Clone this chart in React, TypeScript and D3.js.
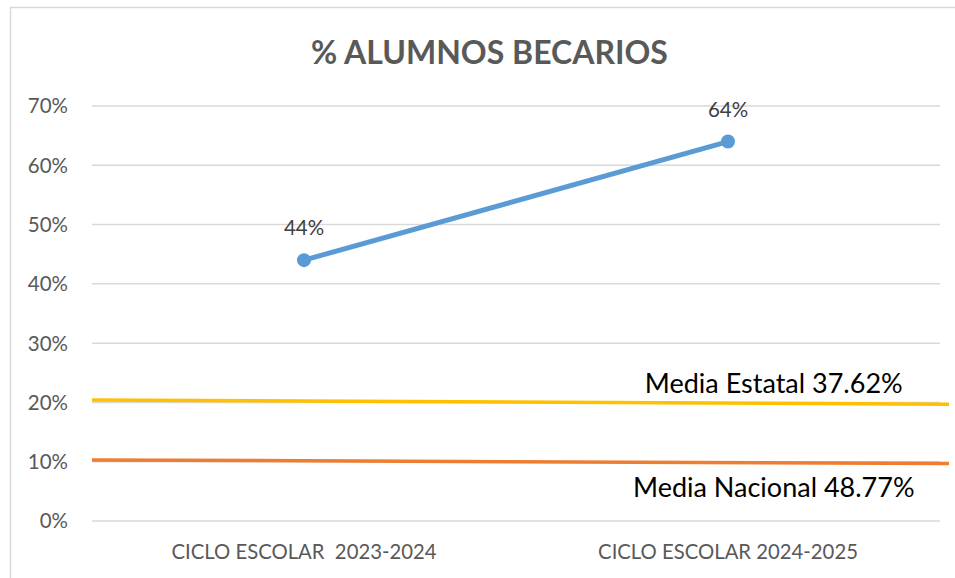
import React from 'react';
import * as d3 from 'd3';

// categories and series
const categories = ['CICLO ESCOLAR  2023-2024', 'CICLO ESCOLAR 2024-2025'];
const becarios = [0.44, 0.64];
const yTicks = [0, 0.1, 0.2, 0.3, 0.4, 0.5, 0.6, 0.7];

// reference lines: value at start and end of the drawn segment (fraction of plot width)
const refExtent = [0, 1.0106];
const mediaEstatal = [0.204, 0.197];
const mediaNacional = [0.103, 0.097];
const refLabels = ['Media Estatal 37.62%', 'Media Nacional 48.77%'];

const W = 955;
const H = 578;
const margin = { top: 106, right: 15, bottom: 57, left: 92 };

const App: React.FC = () => {
  const innerW = W - margin.left - margin.right;
  const innerH = H - margin.top - margin.bottom;

  const x = d3.scaleBand<string>().domain(categories).range([0, innerW]);
  const y = d3.scaleLinear().domain([0, 0.7]).range([innerH, 0]);
  const xFrac = d3.scaleLinear().domain([0, 1]).range([0, innerW]);

  const cx = (c: string) => (x(c) || 0) + x.bandwidth() / 2;
  const pts = categories.map((c, i) => ({ c, v: becarios[i] }));

  const line = d3.line<{ c: string; v: number }>()
    .x(d => cx(d.c))
    .y(d => y(d.v));

  const refLine = d3.line<number>()
    .x((_, i) => xFrac(refExtent[i]))
    .y(d => y(d));

  const pct = d3.format('.0%');
  const font = 'Lato, "Open Sans", sans-serif';

  return (
    <svg
      width={W}
      height={H}
      style={{ position: 'absolute', left: 0, top: 0, display: 'block', background: '#fff' }}
      fontFamily={font}
    >
      {/* chart border */}
      <rect x={10.5} y={7.5} width={W} height={H} fill="none" stroke="#D9D9D9" strokeWidth={1.5} />

      <text x={489.5} y={64} textAnchor="middle" fontSize={32} fontWeight="bold" fill="#595959">
        % ALUMNOS BECARIOS
      </text>

      <g transform={`translate(${margin.left},${margin.top})`}>
        {/* grid + y labels */}
        {yTicks.map(t => (
          <g key={t}>
            <line x1={0} x2={innerW} y1={y(t)} y2={y(t)} stroke="#D9D9D9" strokeWidth={1.5} />
            <text x={-24} y={y(t)} dy="0.36em" textAnchor="end" fontSize={20.5} fill="#595959">
              {pct(t)}
            </text>
          </g>
        ))}

        {/* category labels */}
        {categories.map(c => (
          <text key={c} x={cx(c)} y={innerH + 38} textAnchor="middle" fontSize={20.3} fill="#595959" style={{ whiteSpace: 'pre' }}>
            {c}
          </text>
        ))}

        {/* reference lines */}
        <path d={refLine(mediaEstatal) || ''} fill="none" stroke="#FFC000" strokeWidth={3.5} />
        <path d={refLine(mediaNacional) || ''} fill="none" stroke="#ED7D31" strokeWidth={3.5} />
        <text x={xFrac(0.804)} y={y(mediaEstatal[1]) - 11} textAnchor="middle" fontSize={27} fill="#000">
          {refLabels[0]}
        </text>
        <text x={xFrac(0.804)} y={y(mediaNacional[1]) + 34} textAnchor="middle" fontSize={27} fill="#000">
          {refLabels[1]}
        </text>

        {/* main series */}
        <path d={line(pts) || ''} fill="none" stroke="#5B9BD5" strokeWidth={5} strokeLinecap="round" />
        {pts.map(p => (
          <g key={p.c}>
            <circle cx={cx(p.c)} cy={y(p.v)} r={7} fill="#5B9BD5" />
            <text x={cx(p.c)} y={y(p.v) - 25} textAnchor="middle" fontSize={20.5} fill="#404040">
              {pct(p.v)}
            </text>
          </g>
        ))}
      </g>
    </svg>
  );
};

export default App;
